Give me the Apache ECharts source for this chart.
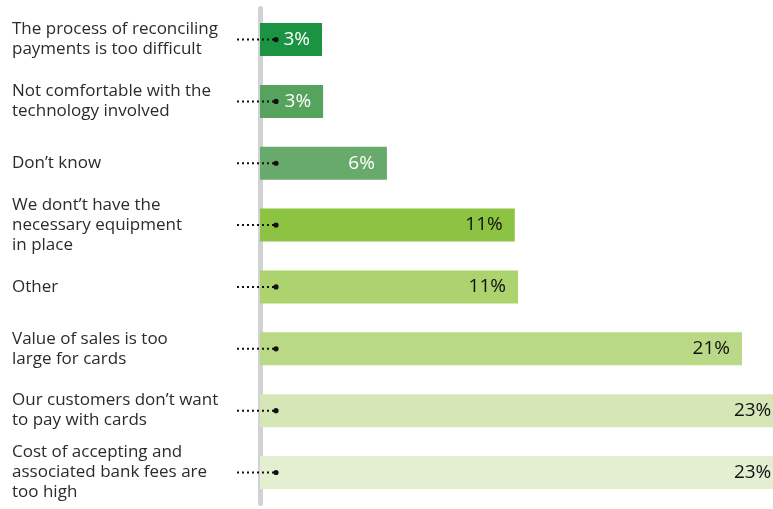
<!DOCTYPE html>
<html>
<head>
<meta charset="utf-8">
<script src="https://cdn.jsdelivr.net/npm/echarts@6/dist/echarts.min.js"></script>
<style>html,body{margin:0;padding:0;background:#fff;}#chart{width:773px;height:509px;}</style>
</head>
<body>
<div id="chart"></div>
<script>
var categories = [
  'The process of reconciling\npayments is too difficult',
  'Not comfortable with the\ntechnology involved',
  'Don\u2019t know',
  'We dont\u2019t have the\nnecessary equipment\nin place',
  'Other',
  'Value of sales is too\nlarge for cards',
  'Our customers don\u2019t want\nto pay with cards',
  'Cost of accepting and\nassociated bank fees are\ntoo high'
];
var barValues = [2.7, 2.75, 5.53, 11.1, 11.24, 21.0, 22.8, 22.8];
var valueLabels = ['3%', '3%', '6%', '11%', '11%', '21%', '23%', '23%'];
var barColors = ['#1a9343', '#55a35c', '#68aa6b', '#8cc343', '#add36f', '#b9d986', '#d5e6b7', '#e4efd2'];
var labelColors = ['#ffffff', '#ffffff', '#ffffff', '#111111', '#111111', '#111111', '#111111', '#111111'];

var chart = echarts.init(document.getElementById('chart'));
chart.setOption({
  animation: false,
  grid: { left: 260, right: 0, top: 8.6, bottom: 5.6 },
  xAxis: { type: 'value', min: 0, max: 22.35, show: false },
  yAxis: {
    type: 'category',
    data: categories,
    inverse: true,
    offset: 2.5,
    axisLine: { show: true, lineStyle: { color: '#d2d2d4', width: 5 } },
    axisTick: { show: false },
    axisLabel: {
      align: 'left',
      margin: 245.5,
      fontFamily: 'Open Sans',
      fontSize: 17,
      lineHeight: 20,
      color: '#2b2b2b'
    }
  },
  series: [
    {
      type: 'bar',
      clip: false,
      barWidth: 33,
      data: barValues.map(function (v, i) {
        return {
          value: v,
          itemStyle: { color: barColors[i] },
          label: { color: labelColors[i] }
        };
      }),
      label: {
        show: true,
        position: 'insideRight',
        distance: 12,
        fontFamily: 'Open Sans',
        fontSize: 19,
        formatter: function (p) { return valueLabels[p.dataIndex]; }
      }
    },
    {
      type: 'custom',
      z: 10,
      silent: true,
      data: categories.map(function (c, i) { return [0, i]; }),
      renderItem: function (params, api) {
        var p = api.coord([0, api.value(1)]);
        var x0 = p[0] - 23, x1 = p[0] + 16;
        return {
          type: 'group',
          children: [
            { type: 'line', shape: { x1: x0, y1: p[1], x2: x1, y2: p[1] },
              style: { stroke: '#111', lineWidth: 2, lineDash: [2, 3] } },
            { type: 'circle', shape: { cx: x1, cy: p[1], r: 2.6 }, style: { fill: '#111' } }
          ]
        };
      }
    }
  ]
});
</script>
</body>
</html>
